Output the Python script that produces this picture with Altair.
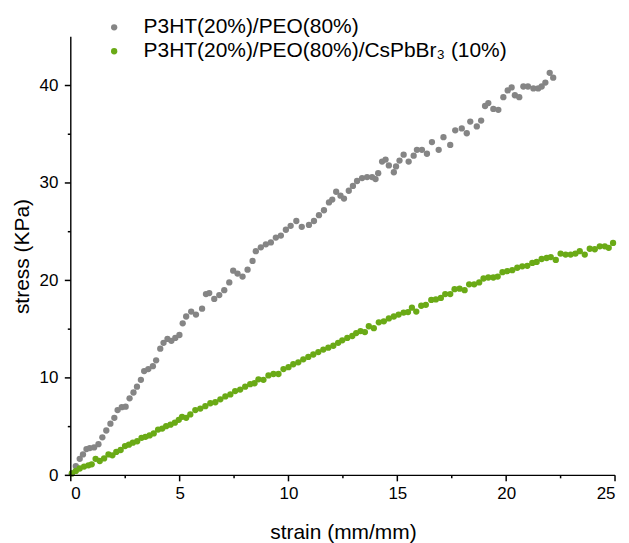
import altair as alt
import pandas as pd

series_names = ["P3HT(20%)/PEO(80%)", "P3HT(20%)/PEO(80%)/CsPbBr\u2083 (10%)"]
series_colors = ["#858585", "#6AAA16"]

gray_x = [0.05, 0.23, 0.41, 0.56, 0.72, 0.87, 1.07, 1.27, 1.45, 1.63, 1.82, 2.0, 2.15, 2.34, 2.52,
          2.70, 2.88, 3.04, 3.22, 3.37, 3.56, 3.77, 3.92, 4.11, 4.26, 4.44, 4.62, 4.80, 4.99, 5.14,
          5.30, 5.53, 5.75, 6.03, 6.21, 6.36, 6.59, 6.82, 7.05, 7.28, 7.46, 7.66, 7.89, 8.12, 8.35,
          8.50, 8.73, 8.96, 9.19, 9.42, 9.65, 9.88, 10.1, 10.36, 10.61, 10.94, 11.17, 11.4, 11.63,
          11.86, 12.01, 12.19, 12.39, 12.55, 12.77, 12.96, 13.15, 13.38, 13.61, 13.84, 14.0, 14.12,
          14.3, 14.46, 14.61, 14.84, 14.94, 15.1, 15.29, 15.52, 15.75, 15.9, 16.13, 16.36, 16.59,
          16.9, 17.12, 17.43, 17.66, 17.96, 18.19, 18.35, 18.65, 18.85, 19.03, 19.18, 19.41, 19.64,
          19.87, 20.07, 20.25, 20.40, 20.6, 20.79, 21.0, 21.25, 21.47, 21.63, 21.8, 22.0, 22.16]
gray_y = [0.2, 0.95, 1.7, 2.15, 2.7, 2.8, 2.87, 3.2, 3.9, 4.6, 5.3, 5.9, 6.7, 7.0, 7.05,
          7.9, 8.5, 9.1, 9.8, 10.7, 10.9, 11.2, 11.8, 13.0, 13.6, 14.0, 13.8, 14.1, 14.4, 15.6,
          16.3, 16.8, 16.5, 17.1, 18.6, 18.7, 18.1, 18.5, 19.0, 19.8, 21.0, 20.7, 20.4, 21.1, 22.0,
          23.0, 23.4, 23.7, 23.9, 24.4, 24.6, 25.2, 25.6, 26.1, 25.5, 25.7, 26.1, 26.7, 27.2,
          28.0, 28.3, 29.1, 28.7, 28.4, 29.2, 29.7, 30.2, 30.5, 30.6, 30.6, 30.4, 31.0,
          32.2, 32.4, 31.8, 31.1, 31.7, 32.3, 32.9, 32.2, 32.8, 33.4, 33.4, 33.0, 34.2,
          33.4, 34.7, 33.9, 35.4, 35.6, 35.1, 36.3, 35.8, 36.4, 37.9, 38.2, 37.6, 37.5,
          38.8, 39.5, 39.8, 39.0, 38.8, 39.9, 39.9, 39.7, 39.7, 39.9, 40.3, 41.3, 40.8]

green_x = [0.05, 0.23, 0.41, 0.61, 0.81, 0.96, 1.14, 1.33, 1.53, 1.73, 1.91, 2.09, 2.29, 2.49, 2.67,
           2.85, 3.05, 3.25, 3.43, 3.62, 3.81, 4.01, 4.2, 4.38, 4.58, 4.78, 4.96, 5.11, 5.3, 5.49,
           5.72, 5.95, 6.18, 6.41, 6.64, 6.87, 7.1, 7.33, 7.55, 7.78, 8.01, 8.24, 8.44, 8.62, 8.85,
           9.08, 9.31, 9.54, 9.77, 10.0, 10.22, 10.45, 10.68, 10.91, 11.14, 11.37, 11.6, 11.83, 12.06,
           12.28, 12.47, 12.7, 12.93, 13.11, 13.31, 13.51, 13.69, 13.92, 14.15, 14.38, 14.61, 14.84,
           15.06, 15.29, 15.49, 15.67, 15.87, 16.1, 16.31, 16.56, 16.77, 17.0, 17.2, 17.43, 17.63,
           17.86, 18.09, 18.3, 18.53, 18.76, 18.96, 19.18, 19.41, 19.61, 19.83, 20.05, 20.28, 20.51,
           20.74, 20.97, 21.2, 21.4, 21.63, 21.86, 22.05, 22.28, 22.5, 22.73, 22.96, 23.18, 23.38,
           23.61, 23.84, 24.07, 24.3, 24.53, 24.71, 24.91]
green_y = [0.2, 0.45, 0.7, 0.9, 1.03, 1.13, 1.7, 1.47, 1.74, 2.15, 2.05, 2.4, 2.6, 3.0, 3.15,
           3.35, 3.5, 3.85, 3.95, 4.1, 4.3, 4.7, 4.8, 5.05, 5.2, 5.4, 5.7, 6.0, 5.9, 6.25,
           6.7, 6.85, 7.1, 7.4, 7.5, 7.8, 8.1, 8.3, 8.65, 8.8, 9.1, 9.35, 9.45, 9.85, 9.8,
           10.25, 10.4, 10.4, 10.9, 11.1, 11.4, 11.6, 11.9, 12.15, 12.4, 12.65, 12.9, 13.1, 13.3,
           13.6, 13.85, 14.1, 14.3, 14.6, 14.8, 14.7, 15.3, 15.1, 15.7, 15.8, 16.1, 16.3,
           16.5, 16.7, 16.75, 17.2, 16.8, 17.4, 17.5, 18.0, 18.05, 18.2, 18.6, 18.6, 19.1,
           19.15, 19.0, 19.6, 19.6, 19.8, 20.2, 20.3, 20.3, 20.4, 20.85, 20.95, 21.05, 21.3,
           21.45, 21.5, 21.8, 21.9, 22.2, 22.3, 22.4, 22.1, 22.75, 22.65, 22.65, 22.75, 23.0,
           22.65, 23.25, 23.2, 23.5, 23.5, 23.35, 23.85]

x_major = [0, 5, 10, 15, 20, 25]
x_minor = [2.5, 7.5, 12.5, 17.5, 22.5]
y_major = [0, 10, 20, 30, 40]
y_minor = [5, 15, 25, 35]
x_range = [0, 25]
y_range = [0, 45]

df = pd.concat([
    pd.DataFrame({"strain": gray_x, "stress": gray_y, "series": series_names[0], "order": 0}),
    pd.DataFrame({"strain": green_x, "stress": green_y, "series": series_names[1], "order": 1}),
])

FONT = "Liberation Sans"
W, H = 546, 440
xscale = alt.Scale(domain=x_range, nice=False, zero=False)
yscale = alt.Scale(domain=y_range, nice=False)

points = alt.Chart(df).mark_circle(size=40, opacity=1).encode(
    x=alt.X("strain:Q", scale=xscale,
            axis=alt.Axis(values=x_major, title="strain (mm/mm)", ticks=False, domain=False,
                          grid=False, orient="bottom", labelPadding=10, titlePadding=20)),
    y=alt.Y("stress:Q", scale=yscale,
            axis=alt.Axis(values=y_major, title="stress (KPa)", ticks=False, domain=False,
                          grid=False, orient="left", labelPadding=13, titlePadding=7)),
    color=alt.Color("series:N", scale=alt.Scale(domain=series_names, range=series_colors),
                    legend=alt.Legend(title=None, orient="none", legendX=33, legendY=-20,
                                      symbolType="circle", symbolSize=40, labelFont=FONT,
                                      labelFontSize=21, labelColor="black", labelOffset=19,
                                      labelLimit=0, rowPadding=2, padding=0,
                                      symbolStrokeWidth=0)),
    order=alt.Order("order:Q"),
)

def xticks(vals, length):
    return alt.Chart(pd.DataFrame({"strain": vals})).mark_rule(
        color="black", strokeWidth=1.5, clip=False).encode(
        x=alt.X("strain:Q", scale=xscale),
        y=alt.value(H), y2=alt.value(H + length))

def yticks(vals, length):
    return alt.Chart(pd.DataFrame({"stress": vals})).mark_rule(
        color="black", strokeWidth=1.5, clip=False).encode(
        y=alt.Y("stress:Q", scale=yscale),
        x=alt.value(0), x2=alt.value(-length))

x_domain_line = alt.Chart(pd.DataFrame({"strain": [x_range[0]], "strain_end": [x_range[1]],
                                        "stress": [y_range[0]]})).mark_rule(
    color="black", strokeWidth=1.4).encode(
    x=alt.X("strain:Q", scale=xscale), x2="strain_end:Q", y=alt.Y("stress:Q", scale=yscale))

y_domain_line = alt.Chart(pd.DataFrame({"stress": [y_range[0]], "stress_end": [y_range[1]],
                                        "strain": [x_range[0]]})).mark_rule(
    color="black", strokeWidth=1.4).encode(
    y=alt.Y("stress:Q", scale=yscale), y2="stress_end:Q", x=alt.X("strain:Q", scale=xscale))

chart = alt.layer(
    points, x_domain_line, y_domain_line,
    xticks(x_major, 6), xticks(x_minor, 3), yticks(y_major, 6), yticks(y_minor, 3)
).properties(
    width=W, height=H,
    autosize=alt.AutoSizeParams(type="none"),
    padding={"left": 63, "top": 28, "right": 6, "bottom": 67},
).configure_view(stroke=None).configure_axis(
    labelFont=FONT, labelFontSize=17, labelColor="black",
    titleFont=FONT, titleFontSize=21, titleFontWeight="normal", titleColor="black",
)

chart.save("out.html", embed_options={"renderer": "svg", "actions": False})
